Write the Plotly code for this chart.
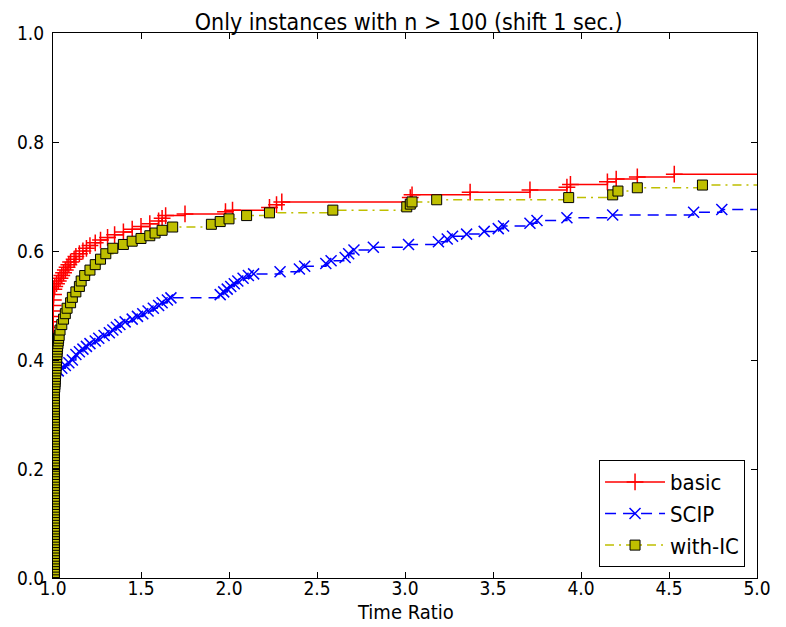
import plotly.graph_objects as go

# basic (red +)
basic_x = [1.0, 1.0, 1.0, 1.0, 1.0, 1.0, 1.001, 1.002, 1.003, 1.005, 1.01, 1.02, 1.03, 1.04, 1.05,
           1.06, 1.07, 1.08, 1.09, 1.10, 1.12, 1.13, 1.15, 1.17, 1.19, 1.21, 1.24, 1.27, 1.31, 1.35,
           1.40, 1.45, 1.50, 1.55, 1.60, 1.62, 1.64, 1.75, 1.98, 2.02, 2.23, 2.27, 2.30, 3.03, 3.04,
           3.37, 3.71, 3.92, 3.94, 4.15, 4.20, 4.32, 4.53, 5.5]
basic_y = [0.44, 0.45, 0.46, 0.47, 0.48, 0.49, 0.50, 0.51, 0.52, 0.53, 0.535, 0.54, 0.545, 0.55, 0.555,
           0.56, 0.565, 0.57, 0.575, 0.58, 0.585, 0.59, 0.595, 0.60, 0.605, 0.61, 0.615, 0.62, 0.625, 0.63,
           0.635, 0.64, 0.645, 0.65, 0.655, 0.66, 0.665, 0.668, 0.672, 0.675, 0.68, 0.685, 0.69, 0.698, 0.703,
           0.708, 0.712, 0.717, 0.722, 0.727, 0.732, 0.736, 0.741, 0.741]

# SCIP (blue x)
scip_x = [1.0, 1.03, 1.05, 1.07, 1.09, 1.11, 1.13, 1.15, 1.17, 1.19, 1.21, 1.24, 1.26, 1.29, 1.32,
          1.34, 1.36, 1.38, 1.41, 1.45, 1.48, 1.51, 1.54, 1.57, 1.60, 1.62, 1.65, 1.67, 1.95, 1.97,
          1.99, 2.01, 2.03, 2.05, 2.08, 2.11, 2.14, 2.29, 2.40, 2.43, 2.55, 2.58, 2.66, 2.68, 2.71,
          2.82, 3.02, 3.19, 3.24, 3.27, 3.35, 3.45, 3.53, 3.56, 3.71, 3.75, 3.92, 4.18, 4.64, 4.80, 5.5]
scip_y = [0.37, 0.38, 0.385, 0.39, 0.395, 0.40, 0.41, 0.415, 0.42, 0.425, 0.43, 0.435, 0.44, 0.445, 0.45,
          0.455, 0.46, 0.465, 0.47, 0.475, 0.48, 0.485, 0.49, 0.495, 0.50, 0.505, 0.51, 0.514, 0.52, 0.525,
          0.53, 0.535, 0.54, 0.545, 0.55, 0.555, 0.558, 0.562, 0.567, 0.572, 0.577, 0.582, 0.588, 0.595, 0.602,
          0.607, 0.612, 0.617, 0.622, 0.627, 0.631, 0.636, 0.641, 0.646, 0.651, 0.656, 0.661, 0.666, 0.671, 0.676, 0.677]

# with-IC (olive squares): dense column near ratio 1, then the tail
ic_col_x = [1.008] * 70 + [1.010, 1.011, 1.012, 1.013, 1.014, 1.015, 1.016, 1.017, 1.018, 1.019,
                           1.020, 1.021, 1.022, 1.023, 1.024, 1.026, 1.028, 1.030, 1.032, 1.035]
ic_col_y = [0.000, 0.005, 0.010, 0.015, 0.020, 0.025, 0.030, 0.035, 0.040, 0.045,
            0.050, 0.055, 0.060, 0.065, 0.070, 0.075, 0.080, 0.085, 0.090, 0.095,
            0.100, 0.105, 0.110, 0.115, 0.120, 0.125, 0.130, 0.135, 0.140, 0.145,
            0.150, 0.155, 0.160, 0.165, 0.170, 0.175, 0.180, 0.185, 0.190, 0.195,
            0.200, 0.205, 0.210, 0.215, 0.220, 0.225, 0.230, 0.235, 0.240, 0.245,
            0.250, 0.255, 0.260, 0.265, 0.270, 0.275, 0.280, 0.285, 0.290, 0.295,
            0.300, 0.305, 0.310, 0.315, 0.320, 0.325, 0.330, 0.335, 0.340, 0.345,
            0.350, 0.355, 0.360, 0.365, 0.370, 0.375, 0.380, 0.385, 0.390, 0.395,
            0.400, 0.405, 0.410, 0.415, 0.420, 0.425, 0.430, 0.435, 0.440, 0.445]
ic_tail_x = [1.04, 1.05, 1.06, 1.07, 1.08, 1.10, 1.11, 1.13, 1.15, 1.16, 1.18, 1.21, 1.24, 1.27,
             1.30, 1.34, 1.40, 1.45, 1.50, 1.55, 1.58, 1.62, 1.68, 1.90, 1.95, 2.0, 2.10, 2.23,
             2.59, 3.01, 3.03, 3.04, 3.18, 3.93, 4.18, 4.21, 4.32, 4.69, 5.5]
ic_tail_y = [0.455, 0.465, 0.475, 0.485, 0.495, 0.505, 0.515, 0.525, 0.535, 0.545, 0.555, 0.565,
             0.575, 0.585, 0.595, 0.605, 0.612, 0.618, 0.623, 0.628, 0.633, 0.638, 0.644, 0.649,
             0.654, 0.659, 0.665, 0.670, 0.675, 0.681, 0.686, 0.690, 0.694, 0.698, 0.703, 0.710,
             0.716, 0.721, 0.722]
ic_x = ic_col_x + ic_tail_x
ic_y = ic_col_y + ic_tail_y

x_ticks = [1.0, 1.5, 2.0, 2.5, 3.0, 3.5, 4.0, 4.5, 5.0]
y_ticks = [0.0, 0.2, 0.4, 0.6, 0.8, 1.0]

FONT = "DejaVu Sans Condensed, DejaVu Sans, sans-serif"

fig = go.Figure()
fig.add_trace(go.Scatter(
    x=basic_x, y=basic_y, name="basic", mode="lines+markers", line_shape="hv",
    line=dict(color="#ff0000", width=1.5),
    marker=dict(symbol="cross-thin", size=12, line=dict(color="#ff0000", width=1.5)),
))
fig.add_trace(go.Scatter(
    x=scip_x, y=scip_y, name="SCIP", mode="lines+markers", line_shape="hv",
    line=dict(color="#0000ff", width=1.5, dash="11px,7px"),
    marker=dict(symbol="x-thin", size=11, line=dict(color="#0000ff", width=1.5)),
))
fig.add_trace(go.Scatter(
    x=ic_x, y=ic_y, name="with-IC", mode="lines+markers", line_shape="hv",
    line=dict(color="#bfbf00", width=1.5, dash="9px,5px,2px,5px"),
    marker=dict(symbol="square", size=10, color="#bfbf00", line=dict(color="#000000", width=1)),
))

axis_common = dict(
    showline=True, linecolor="black", linewidth=1, mirror="ticks",
    ticks="inside", ticklen=6, tickwidth=1, tickcolor="black", automargin=False,
    showgrid=False, zeroline=False, tickfont=dict(family=FONT, size=19, color="black"),
)
fig.update_xaxes(range=[1.0, 5.0], tickvals=x_ticks, ticktext=[f"{v:.1f}" for v in x_ticks],
                 ticklabelstandoff=-7, **axis_common)
fig.update_yaxes(range=[0.0, 1.0], tickvals=y_ticks, ticktext=[f"{v:.1f}" for v in y_ticks],
                 ticklabelstandoff=4, **axis_common)

# the page body adds an 8px margin, so the figure is 8px smaller on each side
fig.add_annotation(text="Time Ratio", xref="paper", yref="paper", x=0.5, y=-34 / 545,
                   xanchor="center", yanchor="middle", showarrow=False,
                   font=dict(family=FONT, size=20, color="black"))

fig.update_layout(
    width=778, height=619,
    margin=dict(l=45, r=29, t=25, b=49),
    paper_bgcolor="white", plot_bgcolor="white",
    title=dict(text="Only instances with n > 100 (shift 1 sec.)", x=0.515, xanchor="center",
               y=1 - 13.5 / 619, yanchor="middle", font=dict(family=FONT, size=23, color="black")),
    legend=dict(x=0.983, y=0.02, xanchor="right", yanchor="bottom",
                bordercolor="black", borderwidth=1, bgcolor="white",
                font=dict(family=FONT, size=22, color="black"), itemwidth=60,
                tracegroupgap=0),
    showlegend=True,
)

fig.write_html("out.html")
